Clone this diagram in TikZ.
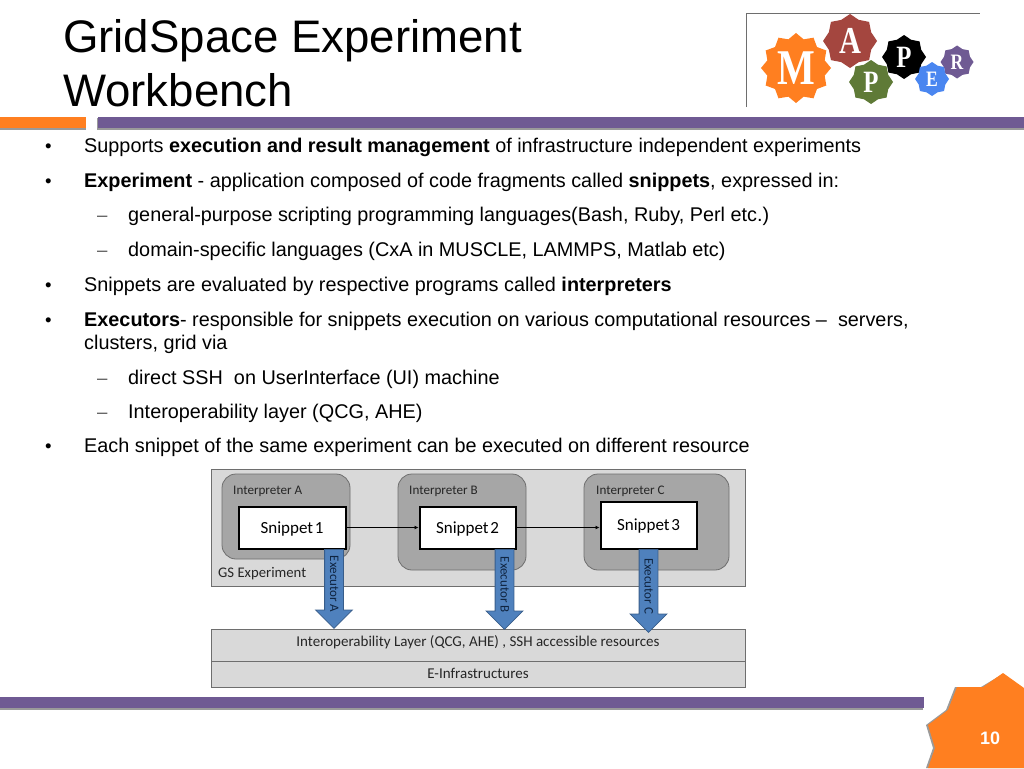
\documentclass[tikz,border=0pt]{standalone}
\usepackage{fontspec}
\usetikzlibrary{shapes.geometric,shapes.arrows,arrows.meta}
\setmainfont{Liberation Sans}
\newfontfamily\calfont{Carlito}
\newfontfamily\logofont[FakeStretch=0.8]{Liberation Serif}
\definecolor{mporange}{HTML}{FF7F20}
\definecolor{mppurple}{HTML}{6F5A93}
\definecolor{mpshadow}{HTML}{9A9A9A}
\definecolor{boxlight}{HTML}{D9D9D9}
\definecolor{boxmid}{HTML}{A6A6A6}
\definecolor{boxline}{HTML}{6E6E6E}
\definecolor{arrowfill}{HTML}{4F81BD}
\definecolor{arrowline}{HTML}{385D8A}
\definecolor{arrowtext}{HTML}{0F2440}
\definecolor{logored}{HTML}{A4463F}
\definecolor{logogreen}{HTML}{5F7A37}
\definecolor{logoblue}{HTML}{4A86F0}
\newcommand{\logoletter}[1]{\raisebox{-0.33em}[0pt][0pt]{\makebox[0pt]{#1}}}
\newcommand{\sniptext}[1]{\raisebox{-5.5pt}[6pt][6pt]{Snippet\hspace{0.1em}#1}}
\tikzset{
  titletext/.style={anchor=base west,inner sep=0,font=\fontsize{45.6}{50}\selectfont},
  bodytext/.style={anchor=base west,inner sep=0,font=\fontsize{19.83}{24}\selectfont},
  bullettext/.style={anchor=base west,inner sep=0,font=\fontsize{18.6}{22}\selectfont},
  dashtext/.style={anchor=base west,inner sep=0,text=black!65,font=\fontsize{18.6}{22}\selectfont},
  panel/.style={draw=boxline,line width=0.8pt,fill=boxlight},
  interp/.style={draw=boxline,line width=0.8pt,fill=boxmid,rounded corners=14pt},
  snip/.style={draw=black,line width=2pt,fill=white,inner sep=0,font=\calfont\fontsize{17}{19}\selectfont},
  small/.style={anchor=base west,inner sep=0,text=black!85,font=\calfont\fontsize{13.1}{15}\selectfont},
  mid/.style={inner sep=0,text=black!85,font=\calfont\fontsize{15}{17}\selectfont},
  snipflow/.style={-{Latex[length=4pt,width=4pt]},line width=0.8pt,black},
  exec/.style={single arrow,rotate=-90,draw=arrowline,line width=0.8pt,fill=arrowfill,
    inner sep=0,text height=13pt,text depth=5pt,single arrow head extend=9pt,single arrow head indent=0pt,
    single arrow tip angle=90,minimum width=36pt,anchor=tail,text=arrowtext,
    font=\calfont\fontsize{13}{14}\selectfont},
  logostar/.style={star,draw=none,inner sep=0,text=white,star point ratio=1.18},
}
\begin{document}
\begin{tikzpicture}[x=1pt,y=-1pt]
\useasboundingbox (0,0) rectangle (1024,768);
% title
\node[titletext] (t1) at (63,52.5) {GridSpace Experiment};
\node[titletext] (t2) at (63,106) {Workbench};
% logo
\draw[boxline,line width=0.8pt] (746,107) -- (746,13) -- (980,13);
\node[logostar,fill=mporange,star points=12,minimum size=70pt,font=\logofont\bfseries\fontsize{50}{50}\selectfont] (lm) at (796,68) {\logoletter{M}};
\node[logostar,fill=mppurple,star points=8,minimum size=33pt,font=\logofont\bfseries\fontsize{22}{22}\selectfont] (lr) at (957,62) {\logoletter{R}};
\node[logostar,fill=black,star points=8,minimum size=44pt,font=\logofont\bfseries\fontsize{31}{31}\selectfont] (lp2) at (904,57) {\logoletter{P}};
\node[logostar,fill=logoblue,star points=8,minimum size=34pt,font=\logofont\bfseries\fontsize{22}{22}\selectfont] (le) at (932,79) {\logoletter{E}};
\node[logostar,fill=logored,star points=8,minimum size=54pt,font=\logofont\bfseries\fontsize{38}{38}\selectfont] (la) at (850,41) {\logoletter{A}};
\node[logostar,fill=logogreen,star points=8,minimum size=44pt,font=\logofont\bfseries\fontsize{31}{31}\selectfont] (lp1) at (871,82) {\logoletter{P}};
% header bars
\fill[mpshadow] (0,119) rectangle (86,130);
\fill[mporange] (0,117) rectangle (86,128);
\fill[mpshadow] (97,118) rectangle (1024,130);
\fill[mppurple] (98,117) rectangle (1024,128);
% body text
\node[bullettext] (b1) at (45,152) {•};
\node[bodytext] (l1) at (84,152) {Supports \textbf{execution and result management} of infrastructure independent experiments};
\node[bullettext] (b2) at (45,187) {•};
\node[bodytext] (l2) at (84,187) {\textbf{Experiment} - application composed of code fragments called \textbf{snippets}, expressed in:};
\node[dashtext] (d3) at (97,221) {–};
\node[bodytext] (l3) at (128,221) {general-purpose scripting programming languages(Bash, Ruby, Perl etc.)};
\node[dashtext] (d4) at (97,256) {–};
\node[bodytext] (l4) at (128,256) {domain-specific languages (CxA in MUSCLE, LAMMPS, Matlab etc)};
\node[bullettext] (b5) at (45,291) {•};
\node[bodytext] (l5) at (84,291) {Snippets are evaluated by respective programs called \textbf{interpreters}};
\node[bullettext] (b6) at (45,326) {•};
\node[bodytext] (l6) at (84,326) {\textbf{Executors}- responsible for snippets execution on various computational resources –\ \ servers,};
\node[bodytext] (l7) at (84,349.5) {clusters, grid via};
\node[dashtext] (d8) at (97,384) {–};
\node[bodytext] (l8) at (128,384) {direct SSH\ \ on UserInterface (UI) machine};
\node[dashtext] (d9) at (97,418) {–};
\node[bodytext] (l9) at (128,418) {Interoperability layer (QCG, AHE)};
\node[bullettext] (b10) at (45,452.5) {•};
\node[bodytext] (l10) at (84,452.5) {Each snippet of the same experiment can be executed on different resource};
% diagram
\draw[panel] (211,469) rectangle (745,586);
\draw[interp] (222,474) rectangle (350,559);
\draw[interp] (398,474) rectangle (526,570);
\draw[interp] (584,474) rectangle (729,570);
\node[small] (ia) at (233,494) {Interpreter A};
\node[small] (ib) at (409,494) {Interpreter B};
\node[small] (ic) at (596,494) {Interpreter C};
\node[small,font=\calfont\fontsize{14.7}{17}\selectfont] (gs) at (218,577.5) {GS Experiment};
\draw[panel] (211,629) rectangle (745,661);
\draw[panel] (211,661) rectangle (745,687);
\node[mid] (il) at (478,642) {Interoperability Layer (QCG, AHE) , SSH accessible resources};
\node[mid] (ei) at (478,673.5) {E-Infrastructures};
\node[snip,minimum width=107pt,minimum height=42pt] (s1) at (292,527.5) {\sniptext{1}};
\node[snip,minimum width=96pt,minimum height=42pt] (s2) at (467.5,527.5) {\sniptext{2}};
\node[snip,minimum width=96pt,minimum height=47pt] (s3) at (648.5,525) {\sniptext{3}};
\draw[snipflow] (s1.east |- s2.west) -- (s2.west);
\draw[snipflow] (s2.east) -- (s2.east -| s3.west);
\coordinate (ca) at (334,549);
\coordinate (cb) at (504.5,549);
\coordinate (cc) at (648.5,549);
\node[exec,minimum height=79pt] (xa) at (ca) {Executor A\hspace{15pt}};
\node[exec,minimum height=80pt] (xb) at (cb) {Executor B\hspace{15pt}};
\node[exec,minimum height=83pt] (xc) at (cc) {Executor C\hspace{6pt}};
% footer
\fill[mpshadow] (0,700) rectangle (923,710);
\fill[mppurple] (0,697) rectangle (924,708);
\fill[mpshadow] (926,768) -- (933,748) -- (926,725) -- (946,710) -- (955,687) -- (981,687) -- (1001,675) -- (1024,690) -- (1024,768) -- cycle;
\fill[mporange] (928,768) -- (935,748) -- (928,725) -- (948,710) -- (957,687) -- (983,687) -- (1003,673) -- (1024,688) -- (1024,768) -- cycle;
\node[inner sep=0,text=white,font=\bfseries\fontsize{18}{20}\selectfont] (pg) at (990,738) {10};
\end{tikzpicture}
\end{document}
